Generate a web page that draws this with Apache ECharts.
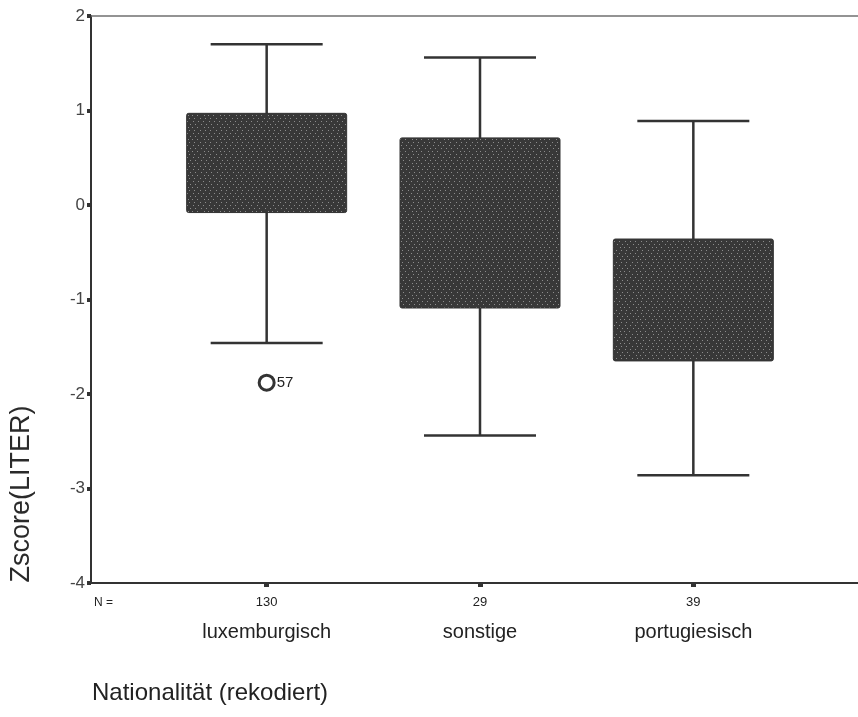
<!DOCTYPE html>
<html>
<head>
<meta charset="utf-8">
<script src="https://cdn.jsdelivr.net/npm/echarts@6/dist/echarts.min.js"></script>
<style>
html,body{margin:0;padding:0;background:#fff;}
#chart{width:858px;height:717px;}
</style>
</head>
<body>
<div id="chart"></div>
<script>
// ---- data ----
var categories = ['luxemburgisch', 'sonstige', 'portugiesisch'];
var counts = [130, 29, 39];
var whiskerLow = [-1.46, -2.44, -2.86];
var boxQ1 = [-0.08, -1.09, -1.65];
var boxQ3 = [0.97, 0.71, -0.36];
var whiskerHigh = [1.70, 1.56, 0.89];
var outliers = [[0, -1.88, '57']];
var yMin = -4, yMax = 2, yStep = 1;
var yTitle = 'Zscore(LITER)';
var xTitle = 'Nationalität (rekodiert)';
var nLabel = 'N =';

// ---- dotted fill pattern ----
var pat = document.createElement('canvas');
pat.width = 16; pat.height = 12;
var pc = pat.getContext('2d');
pc.fillStyle = '#383838';
pc.fillRect(0, 0, 16, 12);
pc.fillStyle = '#8c8c8c';
[[1,1],[6,1],[11,1],[3,4],[9,4],[14,4],[0,7],[5,7],[12,7],[2,10],[8,10],[13,10]].forEach(function(p){ pc.fillRect(p[0], p[1], 1, 1); });

var boxData = categories.map(function(c, i){
  return [i, whiskerLow[i], boxQ1[i], boxQ3[i], whiskerHigh[i]];
});

var FONT = "'Liberation Sans', Arial, sans-serif";
var LINE = '#333';

var chart = echarts.init(document.getElementById('chart'), null, {renderer: 'canvas'});
chart.setOption({
  backgroundColor: '#fff',
  animation: false,
  grid: [
    {left: 91, right: 0, top: 16, bottom: 134},
    {left: 160, right: 58, top: 16, bottom: 134}
  ],
  xAxis: [
    {gridIndex: 0, type: 'value', min: 0, max: 1, position: 'bottom',
      axisLine: {show: true, onZero: false, lineStyle: {color: LINE, width: 2}},
      axisTick: {show: false}, axisLabel: {show: false}, splitLine: {show: false}},
    {gridIndex: 1, type: 'category', data: categories, position: 'bottom',
      axisLine: {show: false, onZero: false},
      axisTick: {show: true, alignWithLabel: true, length: 4, lineStyle: {color: LINE, width: 5}},
      axisLabel: {
        margin: 8, fontFamily: FONT, color: '#222',
        formatter: function(v, i){ return '{n|' + counts[i] + '}\n{c|' + v + '}'; },
        rich: {
          n: {fontSize: 13, lineHeight: 22, fontFamily: FONT, color: '#222'},
          c: {fontSize: 20, lineHeight: 38, fontFamily: FONT, color: '#222'}
        }
      },
      splitLine: {show: false}},
    {gridIndex: 0, type: 'value', min: 0, max: 1, position: 'top',
      axisLine: {show: true, onZero: false, lineStyle: {color: '#707070', width: 1.5}},
      axisTick: {show: false}, axisLabel: {show: false}, splitLine: {show: false}}
  ],
  yAxis: [
    {gridIndex: 0, type: 'value', min: yMin, max: yMax, interval: yStep,
      axisLine: {show: true, onZero: false, lineStyle: {color: LINE, width: 2}},
      axisTick: {show: true, inside: false, length: 4, lineStyle: {color: LINE, width: 4}},
      axisLabel: {margin: 6, fontSize: 17, fontFamily: FONT, color: '#444'},
      splitLine: {show: false}},
    {gridIndex: 1, type: 'value', min: yMin, max: yMax, interval: yStep, show: false}
  ],
  series: [
    {
      type: 'custom', xAxisIndex: 1, yAxisIndex: 1, data: boxData,
      renderItem: function(params, api){
        var x = api.value(0);
        var lo = api.coord([x, api.value(1)]);
        var q1 = api.coord([x, api.value(2)]);
        var q3 = api.coord([x, api.value(3)]);
        var hi = api.coord([x, api.value(4)]);
        var band = api.size([1, 0])[0];
        var bw = band * 0.75, cw = band * 0.525;
        var cx = lo[0];
        var ls = {stroke: LINE, lineWidth: 2.5};
        return {type: 'group', children: [
          {type: 'line', shape: {x1: cx, y1: hi[1], x2: cx, y2: lo[1]}, style: ls},
          {type: 'line', shape: {x1: cx - cw/2, y1: hi[1], x2: cx + cw/2, y2: hi[1]}, style: ls},
          {type: 'line', shape: {x1: cx - cw/2, y1: lo[1], x2: cx + cw/2, y2: lo[1]}, style: ls},
          {type: 'rect', shape: {x: cx - bw/2, y: q3[1], width: bw, height: q1[1] - q3[1], r: 2},
            style: {fill: {image: pat, repeat: 'repeat'}, stroke: '#333', lineWidth: 1}}
        ]};
      }
    },
    {
      type: 'scatter', xAxisIndex: 1, yAxisIndex: 1,
      data: outliers.map(function(o){ return {value: [o[0], o[1]], name: o[2]}; }),
      symbol: 'circle', symbolSize: 15,
      itemStyle: {color: '#fff', borderColor: '#333', borderWidth: 3, opacity: 1},
      label: {show: true, position: 'right', distance: 1, formatter: function(p){ return p.name; }, fontSize: 15, fontFamily: FONT, color: '#222'}
    }
  ],
  graphic: [
    {type: 'text', left: 94, top: 597, style: {text: nLabel, font: '12px ' + FONT, fill: '#222'}},
    {type: 'text', left: 92, top: 681, style: {text: xTitle, font: '24px ' + FONT, fill: '#222'}},
    {type: 'text', x: 22, y: 494, rotation: Math.PI / 2,
      style: {text: yTitle, font: '27px ' + FONT, fill: '#2a2a2a', align: 'center', verticalAlign: 'middle'}}
  ]
});
</script>
</body>
</html>
